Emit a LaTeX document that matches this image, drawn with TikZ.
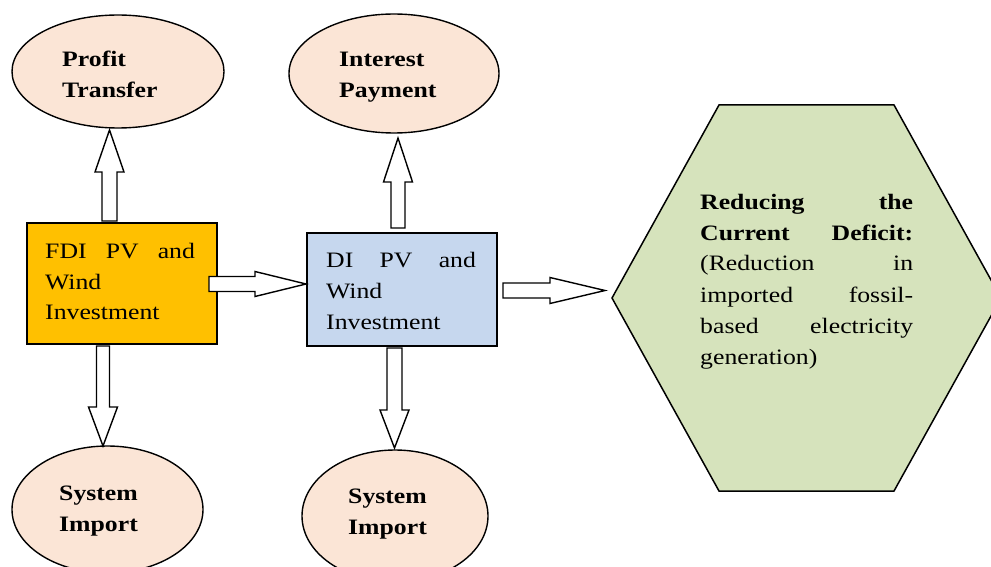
\documentclass[tikz,border=0pt]{standalone}
\usepackage{fontspec}
\setmainfont{Liberation Serif}
\usepackage{graphicx}
\usetikzlibrary{calc,shapes.geometric}
\definecolor{orng}{HTML}{FFC000}
\definecolor{lblue}{HTML}{C6D7EE}
\definecolor{peach}{HTML}{FBE5D6}
\definecolor{olivel}{HTML}{D6E3BC}
\newcommand\txtscale{1.17}
% #1 start, #2 end, #3 head length, #4 head half width, #5 shaft half width
\newcommand\blockarr[5]{%
  \coordinate (hb) at ($(#2)!#3!(#1)$);
  \draw[arrowshape] ($(#1)!#5!90:(#2)$) -- ($(hb)!#5!90:(#2)$) -- ($(hb)!#4!90:(#2)$)
    -- (#2) -- ($(hb)!#4!-90:(#2)$) -- ($(hb)!#5!-90:(#2)$) -- ($(#1)!#5!-90:(#2)$) -- cycle;
}
\newcommand\txtblock[2]{\scalebox{\txtscale}[1]{\parbox[t]{#1}{\setlength\baselineskip{31pt}#2}}}
\begin{document}
\begin{tikzpicture}[x=1pt,y=-1pt,
  oval/.style={draw=black, line width=1.4pt, fill=peach, ellipse, inner sep=0},
  boxnode/.style={draw=black, line width=1.6pt, rectangle, inner sep=0},
  arrowshape/.style={draw=black, line width=1.4pt, fill=white, line join=miter},
  txt/.style={anchor=base west, inner sep=0, font=\fontsize{22}{31}\selectfont},
]
\useasboundingbox (0,0) rectangle (991,567);
\clip (0,0) rectangle (991,567);
\fill[white] (0,0) rectangle (991,567);

% ellipses
\node[oval, minimum width=212, minimum height=113] (pt) at (118,71.5) {};
\node[oval, minimum width=210, minimum height=119] (ip) at (394,73.5) {};
\node[oval, minimum width=191, minimum height=127] (si1) at (107.5,509.5) {};
\node[oval, minimum width=186, minimum height=132] (si2) at (395,516) {};

% boxes
\node[boxnode, fill=orng, minimum width=190, minimum height=121] (fdi) at (122,283.5) {};
\node[boxnode, fill=lblue, minimum width=190, minimum height=113] (di) at (402,289.5) {};

% hexagon
\draw[line width=1.5pt, fill=olivel] (612,298) -- (719,105) -- (894,105) -- (1001,298) -- (894,491) -- (719,491) -- cycle;
\coordinate (hex) at (605,290.5);

% arrow end points
\coordinate (a1s) at (109.5,221); \coordinate (a1e) at (109.5,130);
\coordinate (a2s) at (398,228);   \coordinate (a2e) at (398,138);
\coordinate (a3s) at (103,346);   \coordinate (a3e) at (103,446);
\coordinate (a4s) at (394.5,348); \coordinate (a4e) at (394.5,448);
\coordinate (a5s) at (209,284);   \coordinate (a5e) at (306,284);
\coordinate (a6s) at (503,290.5);

\blockarr{a1s}{a1e}{42pt}{14.5pt}{7.5pt}
\blockarr{a2s}{a2e}{44pt}{14.5pt}{7pt}
\blockarr{a3s}{a3e}{39pt}{14.5pt}{6.5pt}
\blockarr{a4s}{a4e}{38pt}{14.5pt}{7.5pt}
\blockarr{a5s}{a5e}{51pt}{12.5pt}{7.5pt}
\blockarr{a6s}{hex}{55pt}{13pt}{7.5pt}

% texts
\node[txt] (tpt) at (62,67) {\txtblock{100pt}{\bfseries Profit\\Transfer}};
\node[txt] (tip) at (339,67) {\txtblock{100pt}{\bfseries Interest\\Payment}};
\node[txt] (tsi1) at (59,500) {\txtblock{100pt}{\bfseries System\\Import}};
\node[txt] (tsi2) at (348,503) {\txtblock{100pt}{\bfseries System\\Import}};
\node[txt] (tfdi) at (45,258) {\txtblock{128pt}{\makebox[\linewidth][s]{FDI PV and}\\Wind\\Investment}};
\node[txt] (tdi) at (326,267) {\txtblock{128pt}{\makebox[\linewidth][s]{DI PV and}\\Wind\\Investment}};
\node[txt] (thex) at (700,209) {\txtblock{182pt}{\makebox[\linewidth][s]{\bfseries Reducing the}\\\makebox[\linewidth][s]{\bfseries Current Deficit:}\\\makebox[\linewidth][s]{(Reduction in}\\\makebox[\linewidth][s]{imported fossil-}\\\makebox[\linewidth][s]{based electricity}\\generation)}};
\end{tikzpicture}
\end{document}
